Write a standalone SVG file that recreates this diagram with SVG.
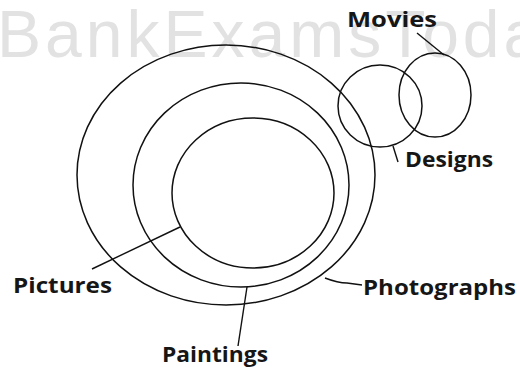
<svg xmlns="http://www.w3.org/2000/svg" width="520" height="374" viewBox="0 0 520 374">
  <style>
    .ring { fill: none; stroke: #111; stroke-width: 1.5; }
    .lead { fill: none; stroke: #111; stroke-width: 1.4; }
    .lbl { font-family: "Open Sans", "Liberation Sans", sans-serif; font-weight: bold; font-size: 22px; fill: #161616; }
    .wm { font-family: "Liberation Sans", "Open Sans", sans-serif; font-size: 66px; fill: #e2e2e2; letter-spacing: 4px; }
  </style>
  <rect width="520" height="374" fill="#ffffff"/>
  <text class="wm" x="-3" y="57">BankExamsToday</text>

  <g id="pictures">
    <ellipse class="ring" cx="226" cy="175" rx="149" ry="130"/>
    <text class="lbl" x="13" y="293" textLength="99" lengthAdjust="spacingAndGlyphs">Pictures</text>
  </g>
  <g id="paintings">
    <ellipse class="ring" cx="241" cy="185" rx="108" ry="102"/>
    <text class="lbl" x="162" y="362" textLength="106" lengthAdjust="spacingAndGlyphs">Paintings</text>
  </g>
  <g id="photographs">
    <ellipse class="ring" cx="253" cy="193" rx="81" ry="75"/>
    <text class="lbl" x="363" y="295" textLength="153" lengthAdjust="spacingAndGlyphs">Photographs</text>
  </g>
  <g id="designs">
    <ellipse class="ring" cx="380" cy="106" rx="42" ry="41"/>
    <text class="lbl" x="405" y="167" textLength="88" lengthAdjust="spacingAndGlyphs">Designs</text>
  </g>
  <g id="movies">
    <ellipse class="ring" cx="435" cy="95" rx="36" ry="42"/>
    <text class="lbl" x="347" y="27" textLength="90" lengthAdjust="spacingAndGlyphs">Movies</text>
  </g>

  <g id="connectors">
    <line class="lead" x1="417" y1="33" x2="444" y2="55"/>
    <line class="lead" x1="393" y1="146" x2="398" y2="162"/>
    <line class="lead" x1="92" y1="269" x2="180" y2="227"/>
    <path class="lead" d="M325,278 Q338,283 347,283 L362,285"/>
    <line class="lead" x1="247" y1="287" x2="238" y2="346"/>
  </g>
</svg>
